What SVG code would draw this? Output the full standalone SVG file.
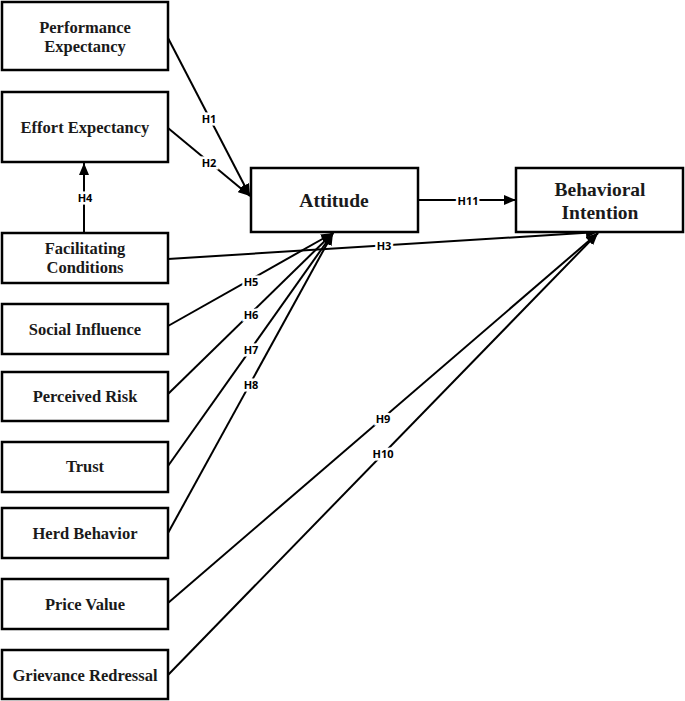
<svg xmlns="http://www.w3.org/2000/svg" width="685" height="701" viewBox="0 0 685 701">
<defs>
<marker id="ah" viewBox="0 0 12 10" refX="12" refY="5" markerWidth="12" markerHeight="10" markerUnits="userSpaceOnUse" orient="auto">
<path d="M0,0 L12,5 L0,10 Z" fill="#000"/>
</marker>
<style>
.box{fill:#fff;stroke:#000;stroke-width:2.5}
.t{font-family:"Liberation Serif","Times New Roman",serif;font-weight:bold;font-size:16.5px;fill:#1a1a1a;text-anchor:middle;dominant-baseline:central}
.big{font-size:19.5px}
.c{stroke:#000;stroke-width:2;fill:none;marker-end:url(#ah)}
.lb{font-family:"Open Sans","DejaVu Sans",sans-serif;font-weight:bold;font-size:11px;fill:#000;text-anchor:middle;dominant-baseline:central;stroke:#fff;stroke-width:5;paint-order:stroke}
</style>
</defs>
<rect width="685" height="701" fill="#fff"/>
<g id="connectors">
<line class="c" x1="168" y1="38" x2="250" y2="196"/>
<line class="c" x1="168" y1="128" x2="250" y2="196"/>
<line class="c" x1="84" y1="233" x2="84" y2="163"/>
<line class="c" x1="168" y1="259" x2="598" y2="232"/>
<line class="c" x1="168" y1="326" x2="333" y2="233"/>
<line class="c" x1="168" y1="394" x2="333" y2="233"/>
<line class="c" x1="168" y1="466" x2="333" y2="233"/>
<line class="c" x1="168" y1="533" x2="333" y2="233"/>
<line class="c" x1="168" y1="603" x2="598" y2="233"/>
<line class="c" x1="168" y1="675" x2="598" y2="233"/>
<line class="c" x1="418" y1="200" x2="516" y2="200"/>
<text class="lb" x="209" y="118">H1</text>
<text class="lb" x="209" y="162">H2</text>
<text class="lb" x="85" y="197">H4</text>
<text class="lb" x="384" y="245">H3</text>
<text class="lb" x="251" y="281">H5</text>
<text class="lb" x="251" y="314">H6</text>
<text class="lb" x="251" y="349">H7</text>
<text class="lb" x="251" y="384">H8</text>
<text class="lb" x="383" y="418">H9</text>
<text class="lb" x="383" y="453">H10</text>
<text class="lb" x="468" y="200">H11</text>
</g>
<g id="pe"><rect class="box" x="2" y="2" width="166" height="68"/><text class="t" x="85" y="27">Performance</text><text class="t" x="85" y="46">Expectancy</text></g>
<g id="ee"><rect class="box" x="2" y="92" width="166" height="70"/><text class="t" x="85" y="127">Effort Expectancy</text></g>
<g id="fc"><rect class="box" x="2" y="233" width="166" height="50"/><text class="t" x="85" y="248">Facilitating</text><text class="t" x="85" y="267">Conditions</text></g>
<g id="si"><rect class="box" x="2" y="304" width="166" height="50"/><text class="t" x="85" y="329">Social Influence</text></g>
<g id="pr"><rect class="box" x="2" y="372" width="166" height="49"/><text class="t" x="85" y="396">Perceived Risk</text></g>
<g id="tr"><rect class="box" x="2" y="442" width="166" height="50"/><text class="t" x="85" y="466">Trust</text></g>
<g id="hb"><rect class="box" x="2" y="508" width="166" height="50"/><text class="t" x="85" y="533">Herd Behavior</text></g>
<g id="pv"><rect class="box" x="2" y="579" width="166" height="50"/><text class="t" x="85" y="604">Price Value</text></g>
<g id="gr"><rect class="box" x="2" y="650" width="166" height="49"/><text class="t" x="85" y="675">Grievance Redressal</text></g>
<g id="att"><rect class="box" x="251" y="168" width="167" height="64"/><text class="t big" x="334" y="200">Attitude</text></g>
<g id="bi"><rect class="box" x="516" y="168" width="167" height="64"/><text class="t big" x="600" y="189">Behavioral</text><text class="t big" x="600" y="212">Intention</text></g>
</svg>
